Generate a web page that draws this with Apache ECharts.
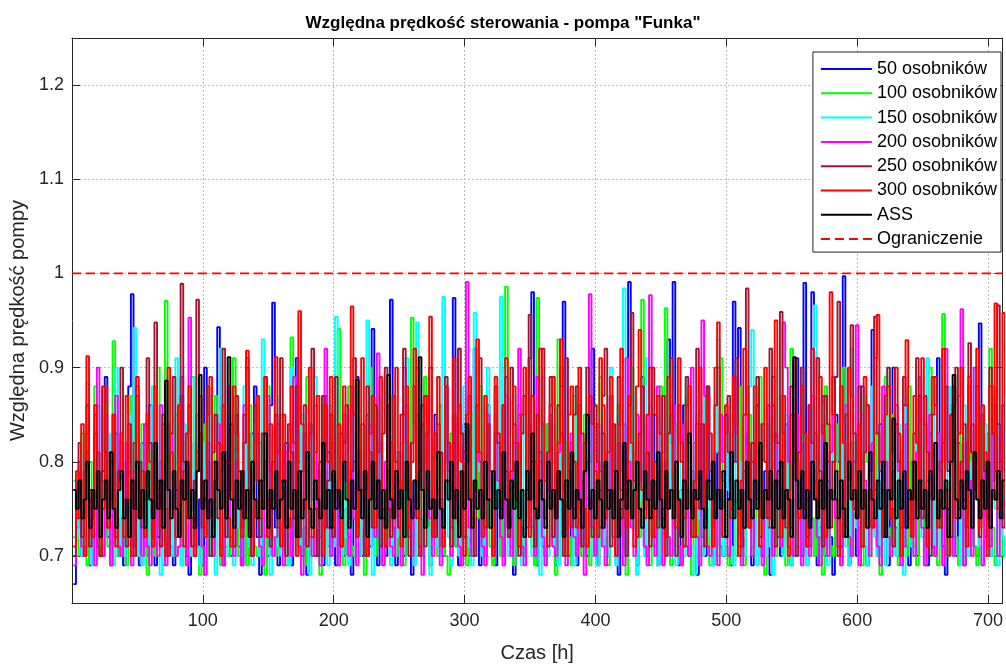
<!DOCTYPE html>
<html><head><meta charset="utf-8">
<script src="https://cdn.jsdelivr.net/npm/echarts@6/dist/echarts.min.js"></script>
<style>html,body{margin:0;padding:0;background:#fff}#c{width:1006px;height:668px}</style>
</head><body><div id="c"></div>
<script>
const titleText = 'Względna prędkość sterowania - pompa "Funka"';
const xName = 'Czas [h]';
const yName = 'Względna prędkość pompy';
const seriesNames = ['50 osobników','100 osobników','150 osobników','200 osobników','250 osobników','300 osobników','ASS','Ograniczenie'];
const xTicks = [100,200,300,400,500,600,700];
const yTicks = [0.7,0.8,0.9,1,1.1,1.2];
const startHour = 1, stepHours = 2;
const limitValue = 1.0;

const s50 = [
0.67,0.73,0.78,0.70,0.74,0.81,0.69,0.76,0.85,0.71,0.70,0.79,0.89,0.72,0.69,0.77,0.83,0.70,0.74,0.69,
0.80,0.88,0.978,0.71,0.75,0.69,0.82,0.73,0.70,0.86,0.78,0.69,0.72,0.80,0.75,0.70,0.84,0.71,0.69,0.77,
0.73,0.87,0.79,0.70,0.68,0.75,0.82,0.71,0.76,0.69,0.90,0.80,0.72,0.70,0.78,0.943,0.74,0.69,0.81,0.72,
0.70,0.76,0.85,0.71,0.69,0.79,0.74,0.70,0.83,0.88,0.72,0.68,0.75,0.80,0.70,0.86,0.969,0.73,0.69,0.78,
0.71,0.82,0.74,0.69,0.77,0.91,0.80,0.70,0.73,0.68,0.84,0.76,0.70,0.79,0.72,0.69,0.87,0.81,0.71,0.74,
0.69,0.78,0.83,0.70,0.75,0.72,0.68,0.80,0.89,0.73,0.70,0.77,0.85,0.71,0.941,0.76,0.69,0.82,0.74,0.70,
0.79,0.972,0.73,0.69,0.81,0.76,0.70,0.86,0.72,0.68,0.78,0.90,0.74,0.70,0.83,0.77,0.69,0.72,0.85,0.71,
0.76,0.70,0.88,0.80,0.73,0.974,0.71,0.69,0.79,0.84,0.72,0.70,0.76,0.92,0.81,0.69,0.74,0.70,0.86,0.77,
0.71,0.69,0.82,0.75,0.70,0.89,0.78,0.72,0.68,0.80,0.85,0.73,0.70,0.77,0.91,0.98,0.74,0.69,0.81,0.71,
0.70,0.84,0.76,0.72,0.69,0.79,0.88,0.97,0.73,0.70,0.82,0.75,0.69,0.86,0.78,0.71,0.70,0.80,0.92,0.74,
0.69,0.77,0.83,0.71,0.70,0.87,0.79,0.72,0.68,0.75,0.84,0.70,0.991,0.81,0.73,0.69,0.78,0.89,0.71,0.70,
0.76,0.85,0.72,0.69,0.80,0.74,0.70,0.93,0.82,0.991,0.73,0.69,0.77,0.86,0.71,0.70,0.79,0.75,0.68,0.84,
0.72,0.70,0.88,0.78,0.69,0.74,0.81,0.71,0.70,0.85,0.76,0.69,0.97,0.80,0.942,0.72,0.70,0.83,0.77,0.69,
0.75,0.86,0.71,0.70,0.79,0.73,0.68,0.89,0.82,0.72,0.70,0.77,0.84,0.71,0.69,0.80,0.91,0.74,0.70,0.99,
0.76,0.71,0.98,0.83,0.69,0.73,0.87,0.70,0.78,0.72,0.68,0.85,0.80,0.71,0.997,0.75,0.69,0.82,0.77,0.70,
0.73,0.88,0.71,0.69,0.79,0.94,0.74,0.70,0.84,0.77,0.72,0.69,0.81,0.90,0.73,0.70,0.76,0.86,0.71,0.69,
0.80,0.74,0.70,0.87,0.78,0.72,0.69,0.83,0.76,0.70,0.91,0.79,0.71,0.68,0.75,0.85,0.72,0.70,0.82,0.77,
0.69,0.74,0.88,0.80,0.71,0.70,0.947,0.76,0.72,0.83,0.70,0.78,0.86,0.84,0.79,0.86,0.85,0.86,0.84,0.86];

const s100 = [
0.72,0.70,0.77,0.83,0.71,0.69,0.80,0.75,0.88,0.72,0.70,0.78,0.86,0.71,0.69,0.928,0.76,0.70,0.82,0.74,
0.69,0.79,0.87,0.72,0.70,0.75,0.84,0.71,0.68,0.81,0.77,0.70,0.90,0.73,0.69,0.971,0.78,0.71,0.70,0.85,
0.76,0.69,0.82,0.73,0.70,0.89,0.79,0.71,0.68,0.76,0.84,0.72,0.70,0.80,0.87,0.74,0.69,0.78,0.71,0.70,
0.83,0.91,0.75,0.70,0.72,0.79,0.69,0.86,0.77,0.71,0.70,0.82,0.74,0.68,0.88,0.80,0.72,0.70,0.76,0.85,
0.71,0.69,0.78,0.932,0.74,0.70,0.83,0.76,0.69,0.89,0.72,0.70,0.80,0.75,0.68,0.86,0.79,0.71,0.70,0.84,
0.77,0.941,0.73,0.69,0.81,0.88,0.71,0.70,0.76,0.83,0.72,0.68,0.79,0.90,0.74,0.70,0.85,0.77,0.69,0.72,
0.80,0.87,0.71,0.70,0.75,0.82,0.69,0.78,0.73,0.953,0.84,0.70,0.71,0.77,0.89,0.74,0.69,0.81,0.72,0.70,
0.86,0.79,0.70,0.68,0.83,0.75,0.71,0.92,0.80,0.72,0.69,0.77,0.85,0.70,0.74,0.88,0.73,0.70,0.79,0.71,
0.69,0.82,0.76,0.70,0.90,0.986,0.74,0.71,0.69,0.80,0.86,0.72,0.70,0.78,0.83,0.71,0.69,0.974,0.77,0.73,
0.70,0.84,0.79,0.71,0.68,0.93,0.75,0.70,0.82,0.72,0.69,0.87,0.78,0.71,0.70,0.85,0.76,0.69,0.81,0.73,
0.70,0.89,0.77,0.72,0.69,0.83,0.74,0.70,0.86,0.79,0.71,0.68,0.80,0.90,0.76,0.70,0.72,0.972,0.84,0.71,
0.69,0.78,0.73,0.70,0.88,0.81,0.963,0.72,0.69,0.76,0.84,0.71,0.70,0.79,0.87,0.74,0.68,0.82,0.77,0.70,
0.71,0.86,0.75,0.69,0.80,0.72,0.70,0.91,0.78,0.71,0.69,0.83,0.76,0.70,0.88,0.73,0.69,0.81,0.85,0.71,
0.70,0.77,0.89,0.72,0.68,0.84,0.79,0.71,0.70,0.75,0.87,0.73,0.69,0.80,0.92,0.76,0.70,0.71,0.83,0.78,
0.69,0.86,0.74,0.70,0.81,0.72,0.68,0.88,0.77,0.71,0.70,0.84,0.79,0.69,0.90,0.75,0.71,0.70,0.82,0.76,
0.72,0.69,0.87,0.80,0.70,0.74,0.83,0.71,0.68,0.78,0.89,0.73,0.70,0.85,0.76,0.69,0.81,0.72,0.70,0.88,
0.77,0.71,0.69,0.84,0.79,0.70,0.73,0.90,0.82,0.71,0.69,0.76,0.957,0.74,0.70,0.86,0.80,0.72,0.69,0.83,
0.75,0.70,0.88,0.78,0.71,0.69,0.84,0.76,0.70,0.81,0.92,0.73,0.69,0.79,0.74,0.70,0.72,0.69,0.71,0.70];

const s150 = [
0.78,0.72,0.76,0.70,0.81,0.884,0.73,0.69,0.79,0.86,0.71,0.70,0.77,0.83,0.72,0.69,0.90,0.80,0.71,0.70,
0.75,0.85,0.73,0.942,0.78,0.70,0.69,0.82,0.76,0.71,0.88,0.74,0.70,0.68,0.80,0.86,0.72,0.70,0.77,0.91,
0.73,0.69,0.84,0.78,0.70,0.75,0.89,0.71,0.69,0.82,0.76,0.70,0.87,0.74,0.68,0.79,0.92,0.72,0.70,0.85,
0.77,0.69,0.81,0.73,0.70,0.88,0.75,0.71,0.69,0.84,0.79,0.70,0.93,0.76,0.72,0.68,0.83,0.87,0.71,0.70,
0.78,0.74,0.69,0.90,0.80,0.71,0.70,0.85,0.76,0.72,0.68,0.82,0.89,0.73,0.70,0.79,0.75,0.69,0.86,0.71,
0.954,0.77,0.70,0.83,0.72,0.69,0.88,0.79,0.71,0.70,0.76,0.84,0.95,0.73,0.68,0.80,0.87,0.71,0.70,0.78,
0.74,0.69,0.86,0.81,0.72,0.70,0.77,0.91,0.75,0.71,0.69,0.948,0.79,0.70,0.87,0.73,0.68,0.80,0.76,0.71,
0.70,0.975,0.89,0.72,0.69,0.78,0.74,0.70,0.82,0.88,0.76,0.71,0.69,0.958,0.84,0.79,0.70,0.73,0.90,0.77,
0.71,0.85,0.75,0.975,0.83,0.80,0.70,0.72,0.87,0.78,0.71,0.69,0.85,0.80,0.74,0.70,0.81,0.76,0.68,0.89,
0.72,0.70,0.79,0.84,0.71,0.69,0.92,0.77,0.70,0.82,0.75,0.69,0.88,0.82,0.73,0.71,0.80,0.86,0.70,0.76,
0.69,0.83,0.78,0.71,0.70,0.90,0.74,0.69,0.85,0.79,0.984,0.70,0.77,0.87,0.73,0.68,0.82,0.76,0.70,0.91,
0.86,0.75,0.71,0.69,0.84,0.80,0.70,0.77,0.88,0.73,0.69,0.82,0.76,0.70,0.89,0.79,0.71,0.68,0.85,0.74,
0.70,0.87,0.78,0.72,0.69,0.81,0.93,0.75,0.70,0.83,0.77,0.71,0.69,0.86,0.80,0.72,0.70,0.78,0.88,0.94,
0.74,0.69,0.84,0.76,0.70,0.82,0.71,0.68,0.90,0.79,0.73,0.70,0.85,0.77,0.69,0.81,0.74,0.70,0.87,0.72,
0.69,0.83,0.78,0.966,0.75,0.70,0.86,0.72,0.69,0.80,0.89,0.74,0.70,0.77,0.84,0.71,0.69,0.92,0.79,0.73,
0.70,0.85,0.76,0.69,0.82,0.88,0.72,0.70,0.78,0.74,0.69,0.90,0.81,0.71,0.70,0.84,0.77,0.68,0.87,0.75,
0.71,0.70,0.83,0.79,0.72,0.69,0.91,0.76,0.70,0.85,0.80,0.71,0.69,0.77,0.88,0.74,0.70,0.82,0.78,0.69,
0.86,0.73,0.70,0.80,0.90,0.76,0.71,0.69,0.84,0.78,0.70,0.87,0.75,0.69,0.81,0.72,0.70,0.77,0.74,0.70];

const s200 = [
0.69,0.74,0.80,0.71,0.70,0.83,0.76,0.72,0.69,0.90,0.78,0.70,0.85,0.73,0.69,0.80,0.87,0.71,0.70,0.76,
0.82,0.72,0.69,0.79,0.88,0.74,0.70,0.84,0.71,0.69,0.77,0.81,0.70,0.86,0.75,0.69,0.72,0.83,0.78,0.70,
0.71,0.89,0.76,0.69,0.953,0.73,0.70,0.85,0.79,0.71,0.68,0.82,0.74,0.70,0.80,0.84,0.71,0.69,0.77,0.88,
0.72,0.70,0.80,0.76,0.69,0.86,0.91,0.73,0.70,0.78,0.83,0.71,0.69,0.75,0.87,0.79,0.70,0.72,0.84,0.76,
0.69,0.81,0.74,0.70,0.89,0.77,0.71,0.68,0.83,0.80,0.72,0.70,0.86,0.75,0.69,0.79,0.92,0.73,0.70,0.82,
0.76,0.69,0.71,0.85,0.78,0.70,0.88,0.74,0.69,0.81,0.77,0.71,0.70,0.84,0.79,0.72,0.915,0.75,0.69,0.80,
0.86,0.71,0.70,0.78,0.73,0.69,0.90,0.82,0.72,0.70,0.76,0.85,0.71,0.68,0.80,0.87,0.74,0.70,0.83,0.77,
0.69,0.72,0.88,0.79,0.70,0.75,0.84,0.71,0.69,0.81,0.991,0.73,0.70,0.77,0.86,0.80,0.71,0.69,0.85,0.76,
0.70,0.83,0.78,0.72,0.69,0.87,0.74,0.70,0.82,0.79,0.92,0.71,0.69,0.76,0.84,0.73,0.70,0.89,0.80,0.72,
0.69,0.77,0.85,0.71,0.70,0.81,0.90,0.74,0.69,0.78,0.83,0.72,0.70,0.86,0.76,0.68,0.80,0.978,0.73,0.70,
0.84,0.79,0.71,0.69,0.75,0.87,0.72,0.70,0.82,0.77,0.69,0.91,0.80,0.73,0.70,0.85,0.78,0.88,0.71,0.69,
0.977,0.76,0.70,0.88,0.74,0.69,0.80,0.72,0.70,0.86,0.79,0.71,0.69,0.84,0.77,0.70,0.90,0.75,0.72,0.69,
0.95,0.87,0.71,0.70,0.78,0.74,0.69,0.85,0.80,0.72,0.70,0.76,0.89,0.83,0.71,0.69,0.79,0.88,0.73,0.70,
0.82,0.81,0.72,0.69,0.77,0.86,0.74,0.70,0.83,0.78,0.71,0.948,0.90,0.80,0.73,0.70,0.85,0.76,0.69,0.82,
0.71,0.70,0.87,0.79,0.72,0.69,0.84,0.77,0.70,0.81,0.89,0.74,0.71,0.69,0.76,0.86,0.72,0.70,0.80,0.945,
0.69,0.85,0.78,0.73,0.70,0.82,0.77,0.71,0.69,0.88,0.80,0.72,0.70,0.75,0.86,0.79,0.69,0.71,0.84,0.74,
0.76,0.70,0.81,0.89,0.73,0.69,0.78,0.85,0.71,0.70,0.83,0.77,0.69,0.92,0.80,0.72,0.70,0.76,0.87,0.962,
0.69,0.82,0.78,0.70,0.90,0.85,0.72,0.69,0.80,0.76,0.71,0.88,0.79,0.70,0.83,0.74,0.86,0.84,0.85,0.86];

const s250 = [
0.70,0.76,0.82,0.72,0.79,0.86,0.71,0.74,0.83,0.78,0.70,0.88,0.81,0.73,0.76,0.85,0.72,0.79,0.90,0.74,
0.71,0.84,0.77,0.70,0.87,0.80,0.73,0.76,0.91,0.82,0.72,0.948,0.78,0.71,0.85,0.75,0.70,0.83,0.89,0.77,
0.72,0.989,0.80,0.74,0.86,0.71,0.78,0.972,0.83,0.73,0.76,0.88,0.70,0.81,0.85,0.74,0.79,0.92,0.72,0.77,
0.84,0.71,0.87,0.79,0.73,0.82,0.90,0.75,0.70,0.86,0.78,0.72,0.83,0.89,0.76,0.71,0.80,0.85,0.73,0.91,
0.77,0.70,0.84,0.81,0.74,0.88,0.72,0.79,0.86,0.71,0.83,0.92,0.75,0.70,0.80,0.87,0.73,0.78,0.85,0.72,
0.89,0.76,0.71,0.82,0.86,0.74,0.79,0.91,0.72,0.77,0.84,0.70,0.88,0.81,0.73,0.86,0.78,0.71,0.83,0.90,
0.75,0.72,0.87,0.80,0.73,0.85,0.92,0.77,0.70,0.82,0.88,0.74,0.79,0.86,0.71,0.83,0.90,0.76,0.72,0.84,
0.81,0.73,0.89,0.78,0.71,0.85,0.76,0.92,0.83,0.72,0.80,0.87,0.74,0.70,0.86,0.91,0.77,0.73,0.84,0.79,
0.71,0.88,0.82,0.74,0.86,0.79,0.72,0.90,0.84,0.76,0.70,0.83,0.87,0.73,0.956,0.80,0.71,0.85,0.78,0.92,
0.74,0.81,0.89,0.72,0.77,0.86,0.83,0.70,0.91,0.79,0.73,0.85,0.88,0.75,0.71,0.82,0.90,0.76,0.72,0.86,
0.80,0.73,0.87,0.92,0.77,0.71,0.84,0.79,0.89,0.74,0.82,0.70,0.86,0.958,0.78,0.72,0.83,0.88,0.75,0.81,
0.71,0.90,0.85,0.73,0.79,0.87,0.72,0.83,0.91,0.76,0.70,0.86,0.80,0.74,0.89,0.82,0.72,0.78,0.92,0.75,
0.84,0.71,0.88,0.79,0.73,0.86,0.90,0.76,0.72,0.83,0.87,0.74,0.80,0.91,0.77,0.71,0.85,0.984,0.73,0.82,
0.78,0.89,0.72,0.84,0.80,0.74,0.92,0.86,0.71,0.79,0.959,0.83,0.73,0.77,0.88,0.85,0.70,0.81,0.90,0.75,
0.72,0.86,0.82,0.76,0.91,0.79,0.71,0.87,0.84,0.73,0.80,0.89,0.97,0.75,0.72,0.85,0.78,0.945,0.83,0.74,
0.88,0.71,0.81,0.86,0.76,0.73,0.954,0.83,0.79,0.72,0.87,0.90,0.75,0.71,0.84,0.80,0.73,0.89,0.86,0.77,
0.72,0.83,0.91,0.78,0.74,0.87,0.81,0.70,0.85,0.89,0.76,0.73,0.82,0.88,0.79,0.72,0.86,0.90,0.75,0.80,
0.84,0.73,0.926,0.81,0.77,0.88,0.72,0.85,0.79,0.74,0.90,0.83,0.76,0.966,0.80,0.73,0.87,0.78,0.74,0.80];

const s300 = [
0.71,0.79,0.74,0.84,0.70,0.912,0.77,0.72,0.86,0.81,0.70,0.75,0.88,0.73,0.80,0.85,0.71,0.78,0.83,0.72,
0.87,0.76,0.70,0.82,0.89,0.74,0.79,0.72,0.85,0.80,0.71,0.88,0.77,0.73,0.84,0.70,0.90,0.81,0.75,0.72,
0.86,0.79,0.71,0.83,0.88,0.74,0.70,0.81,0.87,0.76,0.72,0.85,0.89,0.73,0.78,0.82,0.70,0.86,0.80,0.74,
0.71,0.88,0.83,0.75,0.72,0.85,0.918,0.79,0.70,0.82,0.87,0.74,0.78,0.89,0.72,0.84,0.76,0.911,0.81,0.71,
0.85,0.78,0.73,0.88,0.82,0.70,0.96,0.84,0.75,0.79,0.90,0.72,0.81,0.87,0.74,0.70,0.86,0.80,0.89,0.73,
0.77,0.84,0.71,0.88,0.80,0.74,0.965,0.85,0.72,0.79,0.91,0.76,0.70,0.83,0.87,0.73,0.81,0.89,0.75,0.71,
0.86,0.82,0.74,0.90,0.78,0.71,0.85,0.88,0.73,0.80,0.92,0.76,0.70,0.84,0.87,0.79,0.954,0.72,0.83,0.89,
0.75,0.71,0.88,0.82,0.77,0.91,0.74,0.86,0.80,0.70,0.85,0.89,0.73,0.78,0.93,0.81,0.72,0.87,0.84,0.76,
0.70,0.89,0.83,0.75,0.86,0.91,0.73,0.79,0.88,0.82,0.71,0.85,0.90,0.76,0.72,0.87,0.80,0.74,0.92,0.84,
0.78,0.71,0.86,0.89,0.74,0.82,0.93,0.77,0.70,0.85,0.88,0.80,0.73,0.90,0.83,0.75,0.71,0.87,0.84,0.79,
0.72,0.91,0.86,0.74,0.81,0.89,0.76,0.70,0.84,0.92,0.79,0.73,0.87,0.82,0.71,0.88,0.94,0.77,0.74,0.85,
0.90,0.72,0.80,0.87,0.83,0.75,0.70,0.89,0.85,0.78,0.73,0.91,0.82,0.71,0.86,0.88,0.76,0.72,0.84,0.90,
0.79,0.74,0.87,0.83,0.71,0.90,0.948,0.77,0.72,0.86,0.81,0.75,0.89,0.84,0.70,0.78,0.92,0.85,0.73,0.80,
0.88,0.76,0.71,0.84,0.90,0.79,0.73,0.86,0.95,0.82,0.72,0.87,0.77,0.70,0.85,0.91,0.80,0.74,0.88,0.83,
0.71,0.86,0.92,0.78,0.74,0.89,0.83,0.72,0.80,0.98,0.85,0.76,0.70,0.88,0.82,0.73,0.90,0.87,0.75,0.79,
0.84,0.71,0.89,0.86,0.77,0.73,0.91,0.956,0.80,0.72,0.85,0.88,0.74,0.79,0.90,0.83,0.70,0.86,0.929,0.76,
0.72,0.87,0.82,0.75,0.91,0.84,0.71,0.79,0.89,0.86,0.73,0.80,0.92,0.77,0.70,0.85,0.88,0.74,0.83,0.90,
0.76,0.71,0.89,0.84,0.78,0.92,0.73,0.86,0.81,0.70,0.88,0.83,0.968,0.75,0.80,0.958,0.87,0.74,0.85,0.90];

const sASS = [
0.77,0.75,0.78,0.74,0.76,0.80,0.73,0.77,0.75,0.79,0.72,0.76,0.78,0.74,0.81,0.75,0.73,0.77,0.79,0.74,
0.76,0.72,0.78,0.75,0.80,0.74,0.77,0.73,0.79,0.76,0.74,0.82,0.75,0.78,0.73,0.886,0.77,0.74,0.79,0.75,
0.72,0.78,0.76,0.80,0.74,0.77,0.73,0.79,0.892,0.75,0.78,0.74,0.76,0.72,0.80,0.77,0.75,0.81,0.74,0.911,
0.76,0.73,0.78,0.75,0.79,0.74,0.77,0.72,0.80,0.76,0.74,0.78,0.75,0.83,0.73,0.77,0.75,0.79,0.74,0.76,
0.78,0.73,0.80,0.75,0.77,0.72,0.79,0.74,0.76,0.81,0.75,0.73,0.78,0.76,0.74,0.82,0.75,0.77,0.73,0.79,
0.75,0.77,0.74,0.80,0.76,0.73,0.78,0.75,0.887,0.77,0.74,0.79,0.72,0.76,0.80,0.75,0.78,0.74,0.77,0.73,
0.892,0.76,0.74,0.79,0.75,0.77,0.72,0.80,0.76,0.74,0.78,0.75,0.911,0.77,0.73,0.79,0.75,0.76,0.74,0.81,
0.75,0.73,0.78,0.76,0.80,0.74,0.77,0.72,0.79,0.75,0.84,0.76,0.73,0.78,0.75,0.77,0.74,0.80,0.76,0.73,
0.79,0.75,0.77,0.74,0.81,0.76,0.73,0.78,0.75,0.80,0.74,0.77,0.72,0.79,0.76,0.83,0.75,0.74,0.78,0.76,
0.73,0.80,0.75,0.77,0.74,0.79,0.76,0.72,0.78,0.75,0.81,0.74,0.77,0.76,0.73,0.79,0.85,0.75,0.77,0.74,
0.78,0.76,0.73,0.80,0.75,0.77,0.74,0.79,0.72,0.76,0.82,0.75,0.78,0.74,0.77,0.80,0.75,0.73,0.79,0.76,
0.74,0.78,0.75,0.81,0.76,0.73,0.79,0.75,0.77,0.74,0.80,0.76,0.72,0.78,0.75,0.83,0.74,0.77,0.76,0.79,
0.75,0.73,0.78,0.76,0.80,0.74,0.77,0.75,0.79,0.72,0.76,0.81,0.74,0.78,0.75,0.77,0.73,0.80,0.76,0.74,
0.78,0.75,0.82,0.74,0.77,0.76,0.79,0.73,0.78,0.75,0.80,0.74,0.77,0.76,0.72,0.911,0.78,0.75,0.79,0.74,
0.77,0.73,0.80,0.76,0.74,0.78,0.75,0.82,0.73,0.77,0.76,0.79,0.74,0.78,0.75,0.72,0.80,0.76,0.77,0.74,
0.79,0.75,0.77,0.73,0.81,0.76,0.74,0.78,0.75,0.80,0.72,0.77,0.76,0.846,0.74,0.78,0.75,0.79,0.73,0.77,
0.76,0.80,0.74,0.78,0.75,0.77,0.73,0.79,0.76,0.82,0.74,0.77,0.75,0.78,0.72,0.80,0.892,0.76,0.74,0.78,
0.75,0.79,0.77,0.73,0.81,0.76,0.74,0.78,0.75,0.80,0.73,0.77,0.76,0.79,0.74,0.78,0.75,0.77,0.74,0.78];

const xMin = 0, xMax = 711, yMin = 0.65, yMax = 1.25;
const colors = ['#0000ff','#00ff00','#00ffff','#ff00ff','#a2142f','#ff0000','#000000','#ff0000'];
const allSeries = [s50, s100, s150, s200, s250, s300, sASS];
const FONT = 'Liberation Sans, Arial, Helvetica, sans-serif';
const AX = '#262626';

function pairs(arr){ return arr.map((v,i)=>[startHour + stepHours*i, v]); }

const series = allSeries.map((arr, k) => ({
  name: seriesNames[k], type: 'line', step: 'end', symbol: 'none', showSymbol: false,
  data: pairs(arr), clip: true,
  lineStyle: { color: colors[k], width: k === 6 ? 2 : 1.9 },
  itemStyle: { color: colors[k] }, z: 2 + k
}));
series.push({
  name: seriesNames[7], type: 'line', symbol: 'none', showSymbol: false,
  data: [[xMin, limitValue], [xMax, limitValue]],
  lineStyle: { color: colors[7], width: 1.6, type: [9, 5] },
  itemStyle: { color: colors[7] }, z: 10
});

const chart = echarts.init(document.getElementById('c'), null, { renderer: 'canvas' });
chart.setOption({
  animation: false,
  backgroundColor: '#ffffff',
  textStyle: { fontFamily: FONT },
  title: { text: titleText, left: 'center', top: 10,
    textStyle: { fontFamily: FONT, fontSize: 17, fontWeight: 'bold', color: '#000' } },
  legend: {
    data: seriesNames, orient: 'vertical', right: 5, top: 52,
    padding: [7, 4, 3, 7], itemGap: 4.3, itemWidth: 51, itemHeight: 14,
    backgroundColor: '#fff', borderColor: '#262626', borderWidth: 1,
    itemStyle: { opacity: 0 },
    textStyle: { fontFamily: FONT, fontSize: 18, color: '#000', lineHeight: 20 },
    z: 20
  },
  grid: { left: 72, right: 1, top: 38, bottom: 64, containLabel: false },
  xAxis: [{
    type: 'value', min: xMin, max: xMax, interval: 100,
    name: xName, nameLocation: 'middle', nameGap: 40,
    nameTextStyle: { fontFamily: FONT, fontSize: 20, color: AX },
    axisLine: { show: true, onZero: false, lineStyle: { color: AX, width: 1 } },
    axisTick: { show: true, inside: true, length: 8, lineStyle: { color: AX } },
    axisLabel: { fontFamily: FONT, fontSize: 18, color: AX, margin: 9,
      formatter: v => (xTicks.indexOf(v) >= 0 ? String(v) : '') },
    splitLine: { show: true, lineStyle: { color: '#bcbcbc', type: [2, 2], width: 1 } }
  }, {
    type: 'value', min: xMin, max: xMax, interval: 100, position: 'top',
    axisLine: { show: true, onZero: false, lineStyle: { color: AX, width: 1 } },
    axisTick: { show: true, inside: true, length: 8, lineStyle: { color: AX } },
    axisLabel: { show: false }, splitLine: { show: false }
  }],
  yAxis: [{
    type: 'value', min: yMin, max: yMax, splitNumber: 6,
    name: yName, nameLocation: 'middle', nameGap: 42,
    nameTextStyle: { fontFamily: FONT, fontSize: 20, color: AX },
    axisLine: { show: true, onZero: false, lineStyle: { color: AX, width: 1 } },
    axisTick: { show: true, inside: true, length: 8, lineStyle: { color: AX } },
    axisLabel: { fontFamily: FONT, fontSize: 18, color: AX, margin: 8,
      formatter: v => { const m = yTicks.find(t => Math.abs(t - v) < 1e-6); return m === undefined ? '' : String(m); } },
    splitLine: { show: true, lineStyle: { color: '#bcbcbc', type: [2, 2], width: 1 } }
  }, {
    type: 'value', min: yMin, max: yMax, splitNumber: 6, position: 'right',
    axisLine: { show: true, onZero: false, lineStyle: { color: AX, width: 1 } },
    axisTick: { show: true, inside: true, length: 8, lineStyle: { color: AX } },
    axisLabel: { show: false }, splitLine: { show: false }
  }],
  series: series
});
</script>
</body></html>
